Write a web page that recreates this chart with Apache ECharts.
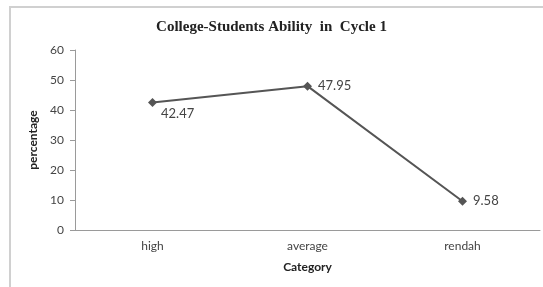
<!DOCTYPE html>
<html>
<head>
<meta charset="utf-8">
<script src="https://cdn.jsdelivr.net/npm/echarts@6/dist/echarts.min.js"></script>
<style>
  html, body { margin: 0; padding: 0; background: #fff; }
  #chart { width: 543px; height: 287px; }
</style>
</head>
<body>
<div id="chart"></div>
<script>
var categories = ['high', 'average', 'rendah'];
var values = [42.47, 47.95, 9.58];
var yTicks = [0, 10, 20, 30, 40, 50, 60];

var chartDom = document.getElementById('chart');
var myChart = echarts.init(chartDom);

// first point has its label below-right, the others to the right
var seriesData = values.map(function (v, i) {
    if (i === 0) {
        return { value: v, label: { position: [13, 9] } };
    }
    return v;
});

var option = {
    animation: false,
    title: {
        text: 'College-Students Ability  in  Cycle 1',
        left: 'center',
        top: 15,
        textStyle: {
            fontFamily: 'Liberation Serif',
            fontWeight: 'bold',
            fontSize: 15,
            color: '#222'
        }
    },
    graphic: [{
        type: 'rect',
        shape: { x: 10, y: 7, width: 545, height: 295 },
        style: { fill: null, stroke: '#d0d0d0', lineWidth: 2 },
        silent: true
    }],
    grid: {
        left: 75,
        right: 3,
        top: 50,
        bottom: 57
    },
    xAxis: {
        type: 'category',
        data: categories,
        name: 'Category',
        nameLocation: 'middle',
        nameGap: 31,
        nameTextStyle: {
            fontFamily: 'Lato',
            fontWeight: 'bold',
            fontSize: 12,
            color: '#222'
        },
        axisLine: { lineStyle: { color: '#9a9a9a', width: 1 } },
        axisTick: { show: false },
        axisLabel: {
            fontFamily: 'Lato',
            fontSize: 12,
            color: '#444',
            margin: 10
        }
    },
    yAxis: {
        type: 'value',
        min: yTicks[0],
        max: yTicks[yTicks.length - 1],
        interval: yTicks[1] - yTicks[0],
        name: 'percentage',
        nameLocation: 'middle',
        nameGap: 29,
        nameTextStyle: {
            fontFamily: 'Lato',
            fontWeight: 'bold',
            fontSize: 12,
            color: '#222'
        },
        axisLine: { show: true, lineStyle: { color: '#9a9a9a', width: 1 } },
        axisTick: { show: true, length: 5, lineStyle: { color: '#9a9a9a' } },
        axisLabel: {
            fontFamily: 'Lato',
            fontSize: 12,
            color: '#444',
            margin: 11
        },
        splitLine: { show: false }
    },
    series: [{
        type: 'line',
        data: seriesData,
        symbol: 'diamond',
        symbolSize: 9,
        lineStyle: { color: '#555', width: 2 },
        itemStyle: { color: '#555' },
        label: {
            show: true,
            position: 'right',
            distance: 6,
            fontFamily: 'Lato',
            fontSize: 13,
            color: '#444'
        }
    }]
};
myChart.setOption(option);
</script>
</body>
</html>
